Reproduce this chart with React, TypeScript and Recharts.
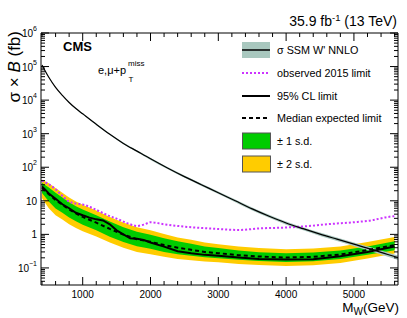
import React from 'react';
import { Area, ComposedChart, Line, XAxis, YAxis } from 'recharts';

const W = 407;
const H = 318;
const FONT = '"Liberation Sans", Arial, Helvetica, sans-serif';

// axis ranges and ticks
const massDomain: [number, number] = [385, 5650];
const sigmaDomain: [number, number] = [0.031, 1e6];
const massTicks = [400, 600, 800, 1000, 1200, 1400, 1600, 1800, 2000, 2200, 2400, 2600, 2800, 3000, 3200, 3400, 3600, 3800, 4000, 4200, 4400, 4600, 4800, 5000, 5200, 5400, 5600];
const massLabels = [1000, 2000, 3000, 4000, 5000];
const sigmaDecades = [0.01, 0.1, 1, 10, 100, 1e3, 1e4, 1e5, 1e6];
const sigmaMinorSteps = [2, 3, 4, 5, 6, 7, 8, 9];
const sigmaTicks = sigmaDecades
	.flatMap((d) => [d, ...sigmaMinorSteps.map((s) => d * s)])
	.filter((v) => v > sigmaDomain[0] && v <= sigmaDomain[1]);

// sigma x B for SSM W' (NNLO), fb
const theoryMass = [400, 500, 600, 700, 800, 900, 1000, 1200, 1400, 1600, 1800, 2000, 2250, 2500, 2750, 3000, 3250, 3500, 3750, 4000, 4250, 4500, 4750, 5000, 5250, 5500, 5650];
const theoryXsec = [112000, 48000, 24000, 13800, 8500, 5600, 3900, 1900, 955, 513, 302, 178, 95, 52.5, 30.2, 17.4, 10, 5.75, 3.47, 2.19, 1.48, 1.02, 0.72, 0.51, 0.363, 0.251, 0.204];
const theoryUnc = [0.03, 0.03, 0.03, 0.03, 0.04, 0.04, 0.04, 0.05, 0.05, 0.06, 0.06, 0.07, 0.07, 0.08, 0.08, 0.09, 0.09, 0.1, 0.1, 0.11, 0.11, 0.12, 0.12, 0.13, 0.13, 0.14, 0.15];

// observed 2015 limit
const obs2015Mass = [400, 500, 600, 700, 800, 900, 1000, 1100, 1200, 1300, 1400, 1500, 1600, 1700, 1800, 1900, 2000, 2200, 2500, 3000, 3300, 3600, 4000, 4300, 4600, 5000, 5250, 5500, 5600];
const obs2015Limit = [40, 31, 22, 14, 9.5, 8.3, 7.8, 6.6, 5.4, 4.3, 3.5, 2.95, 2.4, 2.0, 1.78, 1.95, 2.3, 2.0, 1.7, 1.45, 1.35, 1.5, 1.6, 1.75, 2.0, 2.3, 2.6, 3.3, 3.5];

// observed 95% CL limit
const obsMass = [400, 500, 600, 700, 800, 900, 1000, 1100, 1200, 1300, 1400, 1500, 1600, 1700, 1800, 1900, 2000, 2200, 2400, 2600, 2800, 3000, 3300, 3600, 4000, 4400, 4800, 5200, 5600];
const obsLimit = [26.9, 16.6, 11.5, 7.9, 6.0, 4.4, 3.7, 3.16, 2.8, 2.6, 2.0, 1.32, 1.0, 0.76, 0.74, 0.68, 0.575, 0.43, 0.316, 0.275, 0.245, 0.229, 0.204, 0.186, 0.178, 0.182, 0.224, 0.3, 0.437];

// expected limit and bands
const expMass = [400, 500, 600, 700, 800, 900, 1000, 1200, 1400, 1600, 1800, 2000, 2200, 2400, 2600, 2800, 3000, 3300, 3600, 4000, 4400, 4800, 5200, 5600];
const expLimit = [24.0, 15.8, 10.5, 7.6, 5.5, 4.2, 3.3, 2.24, 1.45, 0.98, 0.72, 0.6, 0.48, 0.4, 0.347, 0.3, 0.275, 0.24, 0.219, 0.204, 0.214, 0.251, 0.339, 0.479];
const oneSigmaLo = [17.0, 9.5, 5.9, 4.4, 3.2, 2.45, 1.95, 1.32, 0.85, 0.59, 0.44, 0.37, 0.3, 0.257, 0.229, 0.209, 0.195, 0.174, 0.162, 0.151, 0.158, 0.186, 0.245, 0.339];
const oneSigmaHi = [33.9, 25.1, 17.4, 12.6, 9.1, 6.9, 5.5, 3.7, 2.4, 1.62, 1.2, 0.98, 0.76, 0.62, 0.525, 0.437, 0.39, 0.33, 0.295, 0.275, 0.288, 0.33, 0.437, 0.62];
const twoSigmaLo = [12.0, 6.0, 3.7, 2.75, 2.0, 1.55, 1.23, 0.87, 0.575, 0.4, 0.3, 0.257, 0.214, 0.186, 0.17, 0.155, 0.148, 0.132, 0.123, 0.115, 0.12, 0.141, 0.19, 0.27];
const twoSigmaHi = [42.7, 33.1, 24.0, 17.4, 12.6, 9.5, 7.6, 5.1, 3.3, 2.24, 1.62, 1.32, 1.02, 0.81, 0.69, 0.575, 0.51, 0.437, 0.39, 0.363, 0.38, 0.437, 0.59, 0.83];

const theoryData = theoryMass.map((m, i) => ({ m, v: theoryXsec[i], band: [theoryXsec[i] * (1 - theoryUnc[i]), theoryXsec[i] * (1 + theoryUnc[i])] }));
const obs2015Data = obs2015Mass.map((m, i) => ({ m, v: obs2015Limit[i] }));
const obsData = obsMass.map((m, i) => ({ m, v: obsLimit[i] }));
const expData = expMass.map((m, i) => ({ m, v: expLimit[i], one: [oneSigmaLo[i], oneSigmaHi[i]], two: [twoSigmaLo[i], twoSigmaHi[i]] }));

const GREEN = '#00cc00';
const YELLOW = '#ffcc00';
const TEAL = '#a9c8bf';
const MAGENTA = '#cc33ff';

const isDecade = (v: number) => Math.abs(Math.log10(v) - Math.round(Math.log10(v))) < 1e-6;

const MassTick = ({ x, y, payload, side }: any) => {
	const major = massLabels.includes(payload.value);
	const len = major ? 8 : 4;
	if (side === 'top') return <line x1={x} x2={x} y1={y} y2={y + len} stroke='#000' />;
	return (
		<g>
			<line x1={x} x2={x} y1={y} y2={y - len} stroke='#000' />
			{major && (
				<text x={x} y={y + 13} textAnchor='middle' fontSize={10} fontFamily={FONT} fill='#000'>
					{payload.value}
				</text>
			)}
		</g>
	);
};

const SigmaTick = ({ x, y, payload, side }: any) => {
	const v = payload.value;
	const major = isDecade(v);
	const len = major ? 8 : 4;
	if (side === 'right') return <line x1={x} x2={x - len} y1={y} y2={y} stroke='#000' />;
	const exp = Math.round(Math.log10(v));
	let label: React.ReactNode = null;
	if (major) {
		if (exp === 0) label = '1';
		else if (exp === 1) label = '10';
		else
			label = (
				<>
					10
					<tspan dy={-6} fontSize={7}>
						{exp < 0 ? `\u2212${-exp}` : exp}
					</tspan>
				</>
			);
	}
	return (
		<g>
			<line x1={x} x2={x + len} y1={y} y2={y} stroke='#000' />
			{major && (
				<text x={x - 4} y={y + 4} textAnchor='end' fontSize={10} fontFamily={FONT} fill='#000'>
					{label}
				</text>
			)}
		</g>
	);
};

const legendRows = [
	{ kind: 'theory', label: "\u03c3 SSM W' NNLO", y: 50 },
	{ kind: 'obs2015', label: 'observed 2015 limit', y: 73 },
	{ kind: 'obs', label: '95% CL limit', y: 96 },
	{ kind: 'exp', label: 'Median expected limit', y: 118 },
	{ kind: 'one', label: '\u00b1 1 s.d.', y: 141 },
	{ kind: 'two', label: '\u00b1 2 s.d.', y: 164 },
];

const LegendSwatch = ({ kind, y }: { kind: string; y: number }) => {
	const x1 = 242;
	const x2 = 270;
	if (kind === 'theory')
		return (
			<g>
				<rect x={x1} y={y - 8} width={x2 - x1} height={16} fill={TEAL} />
				<line x1={x1} x2={x2} y1={y} y2={y} stroke='#000' strokeWidth={1.5} />
			</g>
		);
	if (kind === 'obs2015') return <line x1={x1} x2={x2} y1={y} y2={y} stroke={MAGENTA} strokeWidth={2} strokeDasharray='2 2' />;
	if (kind === 'obs') return <line x1={x1} x2={x2} y1={y} y2={y} stroke='#000' strokeWidth={2} />;
	if (kind === 'exp') return <line x1={x1} x2={x2} y1={y} y2={y} stroke='#000' strokeWidth={2} strokeDasharray='4 3' />;
	return <rect x={x1 + 0.5} y={y - 8} width={x2 - x1} height={16} fill={kind === 'one' ? GREEN : YELLOW} stroke='#555' />;
};

const Overlay = () => (
	<svg width={W} height={H} style={{ position: 'absolute', left: 0, top: 0, pointerEvents: 'none' }} fontFamily={FONT}>
		<text x={397} y={26} textAnchor='end' fontSize={14} fill='#000'>
			35.9 fb
			<tspan dy={-5} fontSize={9.5}>
				-1
			</tspan>
			<tspan dy={5}> (13 TeV)</tspan>
		</text>
		<text x={63} y={51} fontSize={13} fontWeight='bold' fill='#000'>
			CMS
		</text>
		<text x={98} y={74} fontSize={11} fill='#000'>
			{'e,\u03bc+p'}
		</text>
		<text x={128} y={66} fontSize={8} fill='#000'>
			miss
		</text>
		<text x={128.5} y={82} fontSize={8} fill='#000'>
			T
		</text>
		<text x={399} y={312} textAnchor='end' fontSize={13.5} fill='#000'>
			M
			<tspan dy={3} fontSize={10}>
				W
			</tspan>
			<tspan dy={-3}>(GeV)</tspan>
		</text>
		<text transform='translate(20 31) rotate(-90)' textAnchor='end' fontSize={17} fill='#000'>
			{'\u03c3 \u00d7 '}
			<tspan fontStyle='italic'>B</tspan>
			{' (fb)'}
		</text>
		{legendRows.map((r) => (
			<g key={r.kind}>
				<LegendSwatch kind={r.kind} y={r.y} />
				<text x={277} y={r.y + 4} fontSize={10.8} fill='#000'>
					{r.label}
				</text>
			</g>
		))}
	</svg>
);

const App = () => {
	return (
		<div style={{ position: 'absolute', left: 0, top: 0, width: W, height: H, background: '#fff' }}>
			<ComposedChart width={W} height={H} margin={{ top: 0, right: 0, bottom: 0, left: 0 }}>
				<XAxis
					xAxisId='b'
					orientation='bottom'
					type='number'
					dataKey='m'
					domain={massDomain}
					allowDataOverflow
					ticks={massTicks}
					interval={0}
					height={33}
					tickSize={0}
					tickMargin={0}
					tickLine={false}
					axisLine={{ stroke: '#000' }}
					tick={(p: any) => <MassTick {...p} side='bottom' />}
				/>
				<XAxis
					xAxisId='t'
					orientation='top'
					type='number'
					dataKey='m'
					domain={massDomain}
					allowDataOverflow
					ticks={massTicks}
					interval={0}
					height={33}
					tickSize={0}
					tickMargin={0}
					tickLine={false}
					axisLine={{ stroke: '#000' }}
					tick={(p: any) => <MassTick {...p} side='top' />}
				/>
				<YAxis
					yAxisId='l'
					orientation='left'
					type='number'
					scale='log'
					domain={sigmaDomain}
					allowDataOverflow
					ticks={sigmaTicks}
					interval={0}
					width={41}
					tickSize={0}
					tickMargin={0}
					tickLine={false}
					axisLine={{ stroke: '#000' }}
					tick={(p: any) => <SigmaTick {...p} side='left' />}
				/>
				<YAxis
					yAxisId='r'
					orientation='right'
					type='number'
					scale='log'
					domain={sigmaDomain}
					allowDataOverflow
					ticks={sigmaTicks}
					interval={0}
					width={9}
					tickSize={0}
					tickMargin={0}
					tickLine={false}
					axisLine={{ stroke: '#000' }}
					tick={(p: any) => <SigmaTick {...p} side='right' />}
				/>
				<Area xAxisId='b' yAxisId='l' data={expData} dataKey='two' type='linear' stroke='none' fill={YELLOW} fillOpacity={1} isAnimationActive={false} />
				<Area xAxisId='b' yAxisId='l' data={expData} dataKey='one' type='linear' stroke='none' fill={GREEN} fillOpacity={1} isAnimationActive={false} />
				<Line xAxisId='b' yAxisId='l' data={obs2015Data} dataKey='v' type='monotone' stroke={MAGENTA} strokeWidth={2} strokeDasharray='2 2' dot={false} isAnimationActive={false} />
				<Line xAxisId='b' yAxisId='l' data={expData} dataKey='v' type='linear' stroke='#000' strokeWidth={2} strokeDasharray='4 3' dot={false} isAnimationActive={false} />
				<Line xAxisId='b' yAxisId='l' data={obsData} dataKey='v' type='linear' stroke='#000' strokeWidth={2} dot={false} isAnimationActive={false} />
				<Area xAxisId='b' yAxisId='l' data={theoryData} dataKey='band' type='monotone' stroke='none' fill={TEAL} fillOpacity={1} isAnimationActive={false} />
				<Line xAxisId='b' yAxisId='l' data={theoryData} dataKey='v' type='monotone' stroke='#000' strokeWidth={1.2} dot={false} isAnimationActive={false} />
			</ComposedChart>
			<Overlay />
		</div>
	);
};

export default App;
